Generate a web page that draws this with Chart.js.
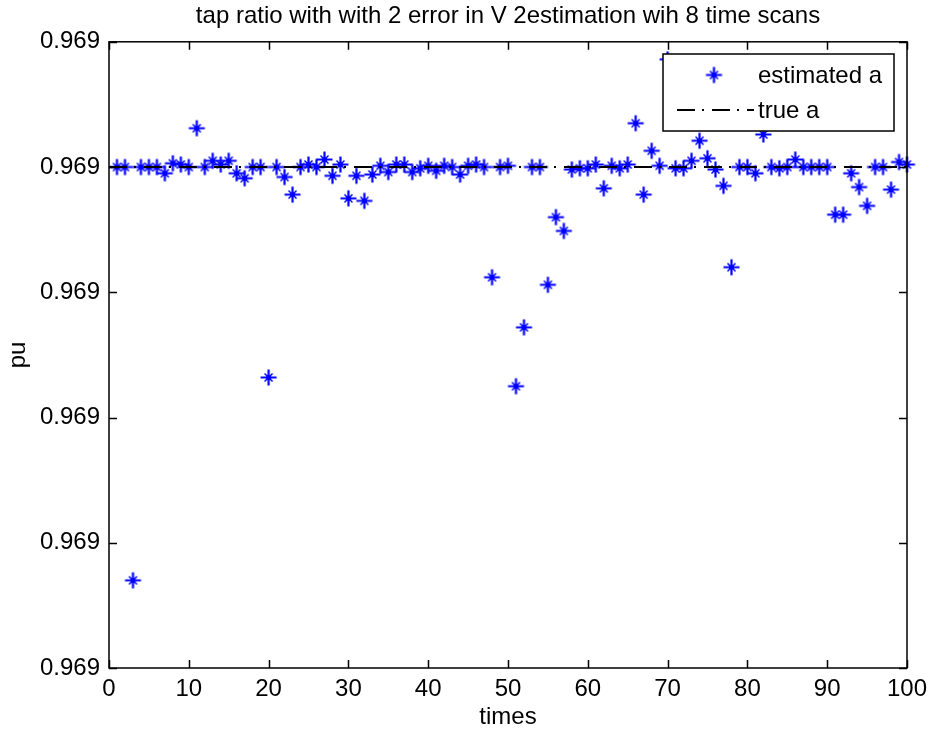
<!DOCTYPE html>
<html>
<head>
<meta charset="utf-8">
<script src="https://cdn.jsdelivr.net/npm/chart.js"></script>
<style>
  html, body { margin: 0; padding: 0; background: #fff; }
  #wrap { width: 930px; height: 736px; }
</style>
</head>
<body>
<div id="wrap"><canvas id="grafico" width="930" height="736"></canvas></div>
<script>
// dados

const times = [1, 2, 3, 4, 5, 6, 7, 8, 9, 10, 11, 12, 13, 14, 15, 16, 17, 18, 19, 20,
    21, 22, 23, 24, 25, 26, 27, 28, 29, 30, 31, 32, 33, 34, 35, 36, 37, 38, 39, 40,
    41, 42, 43, 44, 45, 46, 47, 48, 49, 50, 51, 52, 53, 54, 55, 56, 57, 58, 59, 60,
    61, 62, 63, 64, 65, 66, 67, 68, 69, 70, 71, 72, 73, 74, 75, 76, 77, 78, 79, 80,
    81, 82, 83, 84, 85, 86, 87, 88, 89, 90, 91, 92, 93, 94, 95, 96, 97, 98, 99, 100];

const estimatedA = [
    0.969200, 0.969200, 0.968870, 0.969200, 0.969200, 0.969200, 0.969195, 0.969203, 0.969202, 0.969200,
    0.969231, 0.969200, 0.969205, 0.969202, 0.969205, 0.969195, 0.969191, 0.969200, 0.969200, 0.969032,
    0.969200, 0.969192, 0.969178, 0.969200, 0.969202, 0.969200, 0.969206, 0.969193, 0.969202, 0.969175,
    0.969193, 0.969173, 0.969194, 0.969201, 0.969196, 0.969202, 0.969202, 0.969196, 0.969199, 0.969201,
    0.969197, 0.969201, 0.969200, 0.969194, 0.969201, 0.969202, 0.969200, 0.969112, 0.969200, 0.969201,
    0.969025, 0.969072, 0.969200, 0.969200, 0.969106, 0.969160, 0.969149, 0.969198, 0.969199, 0.969199,
    0.969202, 0.969183, 0.969201, 0.969199, 0.969202, 0.969235, 0.969178, 0.969213, 0.969201, 0.969286,
    0.969199, 0.969199, 0.969205, 0.969221, 0.969207, 0.969198, 0.969185, 0.969120, 0.969200, 0.969200,
    0.969195, 0.969226, 0.969200, 0.969199, 0.969200, 0.969206, 0.969200, 0.969200, 0.969200, 0.969200,
    0.969162, 0.969162, 0.969195, 0.969184, 0.969169, 0.969200, 0.969200, 0.969182, 0.969204, 0.969202
];

const trueA = 0.9692;
const trueX = [0, 100];

const yMin = 0.9688;
const yMax = 0.9693;
const yStep = 0.0001;
const xMin = 0;
const xMax = 100;
const xStep = 10;

const fonte = "'Liberation Sans', Arial, sans-serif";
Chart.defaults.font.family = fonte;
Chart.defaults.color = '#000';

// marcador tipo asterisco do matlab
function criaAsterisco() {
    const c = document.createElement('canvas');
    c.width = 19;
    c.height = 19;
    const g = c.getContext('2d');
    g.strokeStyle = '#0000ff';
    g.lineCap = 'butt';
    g.lineWidth = 2.2;
    g.beginPath();
    g.moveTo(9.5, 1.5); g.lineTo(9.5, 17.5);
    g.moveTo(1.5, 9.5); g.lineTo(17.5, 9.5);
    g.stroke();
    g.lineWidth = 1.5;
    g.beginPath();
    g.moveTo(5.5, 5.5); g.lineTo(13.5, 13.5);
    g.moveTo(13.5, 5.5); g.lineTo(5.5, 13.5);
    g.stroke();
    g.fillStyle = '#0000ff';
    g.beginPath();
    g.arc(9.5, 9.5, 2.6, 0, Math.PI * 2);
    g.fill();
    return c;
}
const asterisco = criaAsterisco();
const tracoPonto = [18, 7, 2, 8];

// caixa, ticks para dentro e legenda
const caixaPlugin = {
    id: 'caixa',
    afterDraw(chart) {
        const ctx = chart.ctx;
        const a = chart.chartArea;
        const sx = chart.scales.x;
        const sy = chart.scales.y;
        ctx.save();
        ctx.strokeStyle = '#000';
        ctx.lineWidth = 1.5;
        ctx.strokeRect(a.left, a.top, a.right - a.left, a.bottom - a.top);
        const tl = 8;
        ctx.beginPath();
        sx.ticks.forEach(t => {
            const px = Math.round(sx.getPixelForValue(t.value)) + 0.5;
            ctx.moveTo(px, a.bottom); ctx.lineTo(px, a.bottom - tl);
            ctx.moveTo(px, a.top); ctx.lineTo(px, a.top + tl);
        });
        sy.ticks.forEach(t => {
            const py = Math.round(sy.getPixelForValue(t.value)) + 0.5;
            ctx.moveTo(a.left, py); ctx.lineTo(a.left + tl, py);
            ctx.moveTo(a.right, py); ctx.lineTo(a.right - tl, py);
        });
        ctx.stroke();

        // legenda
        const lx = 663, ly = 54, lw = 231, lh = 77;
        ctx.fillStyle = '#fff';
        ctx.fillRect(lx, ly, lw, lh);
        ctx.lineWidth = 1.5;
        ctx.strokeRect(lx, ly, lw, lh);
        ctx.drawImage(asterisco, 714 - 9.5, 75 - 9.5);
        ctx.beginPath();
        ctx.setLineDash(tracoPonto);
        ctx.lineWidth = 2;
        ctx.moveTo(677, 110);
        ctx.lineTo(754, 110);
        ctx.stroke();
        ctx.setLineDash([]);
        ctx.fillStyle = '#000';
        ctx.font = '24px ' + fonte;
        ctx.textBaseline = 'middle';
        ctx.fillText('estimated a', 758, 76);
        ctx.fillText('true a', 758, 111);
        ctx.restore();
    }
};

const grafico = new Chart(document.getElementById('grafico'), {
    type: 'scatter',
    data: {
        datasets: [{
            label: 'true a',
            type: 'line',
            data: trueX.map(x => ({ x: x, y: trueA })),
            borderColor: '#000',
            borderWidth: 2,
            borderDash: tracoPonto,
            pointRadius: 0,
            fill: false,
            order: 0
        }, {
            label: 'estimated a',
            data: times.map((t, i) => ({ x: t, y: estimatedA[i] })),
            pointStyle: asterisco,
            pointRadius: 9,
            showLine: false,
            clip: false,
            order: 1
        }]
    },
    plugins: [caixaPlugin],
    options: {
        responsive: false,
        animation: false,
        layout: {
            padding: { left: 0, right: 23, top: 0, bottom: 0 }
        },
        scales: {
            x: {
                type: 'linear',
                min: xMin,
                max: xMax,
                grid: { display: false, drawTicks: false },
                border: { display: false },
                ticks: {
                    stepSize: xStep,
                    padding: 7,
                    maxRotation: 0,
                    font: { size: 24 },
                    color: '#000'
                },
                title: {
                    display: true,
                    text: 'times',
                    font: { size: 24 },
                    color: '#000',
                    padding: { top: 0, bottom: 4 }
                },
                afterFit(scale) {
                    scale.height = 68;
                    scale.paddingRight = 0;
                }
            },
            y: {
                min: yMin,
                max: yMax,
                grid: { display: false, drawTicks: false },
                border: { display: false },
                ticks: {
                    stepSize: yStep,
                    padding: 9,
                    font: { size: 24 },
                    color: '#000',
                    callback: v => v.toFixed(3)
                },
                title: {
                    display: true,
                    text: 'pu',
                    font: { size: 24 },
                    color: '#000',
                    padding: { top: 4, bottom: 0 }
                },
                afterFit(scale) {
                    scale.width = 109;
                }
            }
        },
        plugins: {
            legend: { display: false },
            tooltip: { enabled: false },
            title: {
                display: true,
                fullSize: false,
                text: 'tap ratio with with 2 error in V 2estimation wih 8 time scans',
                font: { size: 24, weight: 'normal' },
                color: '#000',
                padding: { top: 2, bottom: 11 }
            }
        }
    }
});
</script>
</body>
</html>
